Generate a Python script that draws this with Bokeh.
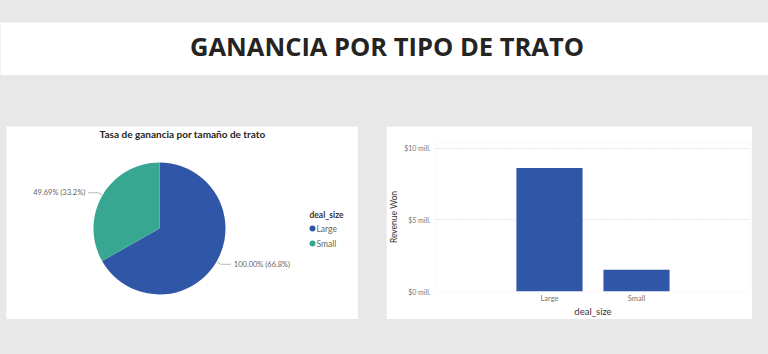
import math
from bokeh.plotting import figure
from bokeh.layouts import column, row
from bokeh.models import Range1d, FactorRange, Label, FixedTicker, PrintfTickFormatter
from bokeh.core.properties import value
from bokeh.embed import file_html
from bokeh.resources import INLINE

# ---- data ----
deal_size = ["Large", "Small"]
win_rate = [100.00, 49.69]          # tasa de ganancia (%)
revenue_mill = [8.62, 1.52]         # Revenue Won (millones $)
y_ticks = [0, 5, 10]
page_title = "GANANCIA POR TIPO DE TRATO"
pie_title = "Tasa de ganancia por tamaño de trato"
bar_title = "Ganancia ganada por tipo de trato"
legend_title = "deal_size"
y_label = "Revenue Won"
x_label = "deal_size"

# ---- styles ----
colors = ["#3056A8", "#38A792"]
BG = "#e8e8e8"
FONT = "Lato"
DARK = "#252423"
GREY = "#666666"


def clean(p):
    p.outline_line_color = None
    p.background_fill_color = "white"
    p.border_fill_color = "white"


# ---- page title band ----
tf = figure(width=768, height=53, x_range=Range1d(0, 768), y_range=Range1d(-53, 0),
            x_axis_type=None, y_axis_type=None, output_backend="svg",
            toolbar_location=None, min_border=0, margin=(22, 0, 0, 0))
clean(tf)
tf.grid.visible = False
tf.text(x=[386.5], y=[-23], text=[page_title], text_font=value("Open Sans"),
        text_font_style="bold", text_font_size="25.5px", text_align="center",
        text_baseline="middle", text_color=DARK)

# ---- pie ----
PW, PH = 352, 193
pf = figure(width=PW, height=PH, x_range=Range1d(0, PW), y_range=Range1d(-PH, 0),
            x_axis_type=None, y_axis_type=None, output_backend="svg",
            toolbar_location=None, min_border=0, margin=(51, 0, 0, 6))
clean(pf)
pf.grid.visible = False

cx, cy, R = 153, -102, 66
total = sum(win_rate)
shares = [v / total for v in win_rate]
starts, ends = [], []
a = math.pi / 2
for s in shares:
    starts.append(a)
    a = a - s * 2 * math.pi
    ends.append(a)
pf.wedge(x=cx, y=cy, radius=R, start_angle=starts, end_angle=ends,
         direction="clock", fill_color=colors, line_color=None)

for v, s, a0, a1 in zip(win_rate, shares, starts, ends):
    mid = (a0 + a1) / 2
    ux, uy = math.cos(mid), math.sin(mid)
    p1 = (cx + R * ux, cy + R * uy)
    p2 = (cx + (R + 5) * ux, cy + (R + 5) * uy)
    side = 1 if ux >= 0 else -1
    p3 = (p2[0] + side * 10, p2[1])
    pf.line(x=[p1[0], p2[0], p3[0]], y=[p1[1], p2[1], p3[1]], line_color="#bbbbbb", line_width=1)
    pf.text(x=[p3[0] + side * 3], y=[p3[1]], text=[f"{v:.2f}% ({s * 100:.1f}%)"],
            text_font=value(FONT), text_font_size="7.5px", text_color=GREY,
            text_align="left" if side > 0 else "right", text_baseline="middle")

pf.text(x=[176], y=[-7], text=[pie_title], text_font=value(FONT), text_font_style="bold",
        text_font_size="10px", text_color=DARK, text_align="center", text_baseline="middle")

# legend (drawn)
pf.text(x=[303], y=[-88], text=[legend_title], text_font=value(FONT), text_font_style="bold",
        text_font_size="8.5px", text_color="#333333", text_align="left", text_baseline="middle")
for i, (name, c) in enumerate(zip(deal_size, colors)):
    yy = -102 - 15 * i
    pf.scatter(x=[306], y=[yy], size=6, fill_color=c, line_color=None)
    pf.text(x=[310], y=[yy], text=[name], text_font=value(FONT), text_font_size="8.5px",
            text_color=GREY, text_align="left", text_baseline="middle")

# ---- bar ----
bf = figure(width=366, height=193,
            x_range=FactorRange(factors=deal_size, range_padding=0.81, range_padding_units="absolute"),
            y_range=Range1d(0, 10.41), output_backend="svg", toolbar_location=None,
            min_border_left=49, min_border_right=2, min_border_top=16, min_border_bottom=26,
            margin=(51, 0, 0, 28))
clean(bf)
bf.vbar(x=deal_size, top=revenue_mill, width=0.76, fill_color=colors[0], line_color=None)

bf.xgrid.visible = False
bf.ygrid.grid_line_color = "#cccccc"
bf.ygrid.grid_line_dash = "1 2"
bf.yaxis.ticker = FixedTicker(ticks=y_ticks)
bf.yaxis.formatter = PrintfTickFormatter(format="$%d mill.")
for ax in (bf.xaxis[0], bf.yaxis[0]):
    ax.axis_line_color = None
    ax.major_tick_line_color = None
    ax.minor_tick_line_color = None
    ax.major_tick_out = 0
    ax.major_tick_in = 0
    ax.minor_tick_out = 0
    ax.major_label_text_font = FONT
    ax.major_label_text_font_size = "7.5px"
    ax.major_label_text_color = "#777777"
    ax.axis_label_text_font = FONT
    ax.axis_label_text_font_style = "normal"
    ax.axis_label_text_color = "#333333"
bf.yaxis.major_label_text_font_size = "7px"
bf.yaxis.axis_label_text_font_size = "8.5px"
bf.xaxis.axis_label_text_font_size = "9.5px"
bf.yaxis.axis_label = y_label
bf.xaxis.axis_label = x_label
bf.yaxis.major_label_standoff = 5
bf.yaxis.axis_label_standoff = 2
bf.xaxis.major_label_standoff = 2
bf.xaxis.axis_label_standoff = 0

bf.add_layout(Label(x=135, y=160, x_units="screen", y_units="screen", text=bar_title,
                    text_font=FONT, text_font_style="bold", text_font_size="10px",
                    text_color=DARK, text_align="center", text_baseline="middle"))

layout = column(tf, row(column(pf), column(bf)), width=768, height=354,
                styles={"background-color": BG})

open("out.html", "w").write(file_html(layout, INLINE))
